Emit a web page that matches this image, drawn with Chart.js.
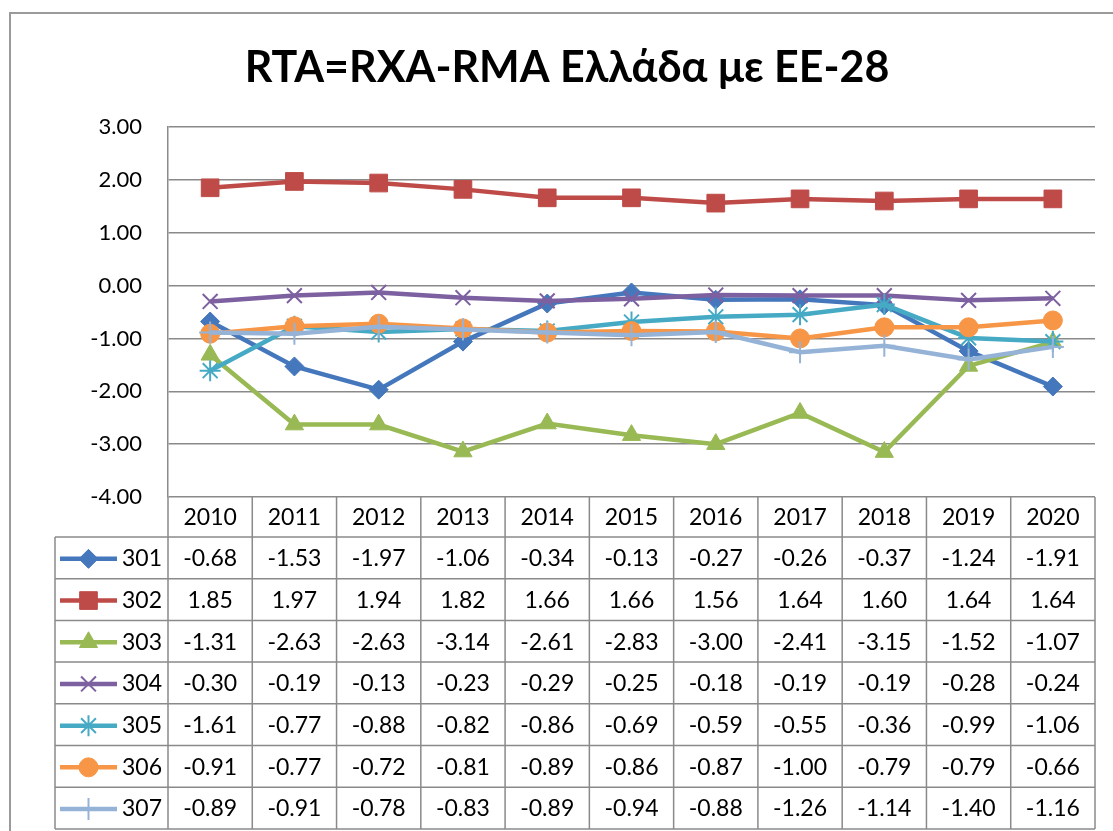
<!DOCTYPE html>
<html lang="el">
<head>
<meta charset="UTF-8">
<title>RTA=RXA-RMA Ελλάδα με ΕΕ-28</title>
<script src="https://cdn.jsdelivr.net/npm/chart.js@4.4.5/dist/chart.umd.min.js"></script>
<style>
  body { margin: 0; background: #fff; }
  #wrap { width: 1113px; height: 831px; }
</style>
</head>
<body>
<div id="wrap"><canvas id="myChart"></canvas></div>
<script>
const chartTitle = 'RTA=RXA-RMA Ελλάδα με ΕΕ-28';
const years = ['2010', '2011', '2012', '2013', '2014', '2015', '2016', '2017', '2018', '2019', '2020'];
const seriesNames = ['301', '302', '303', '304', '305', '306', '307'];

const s301 = [-0.68, -1.53, -1.97, -1.06, -0.34, -0.13, -0.27, -0.26, -0.37, -1.24, -1.91];
const s302 = [1.85, 1.97, 1.94, 1.82, 1.66, 1.66, 1.56, 1.64, 1.60, 1.64, 1.64];
const s303 = [-1.31, -2.63, -2.63, -3.14, -2.61, -2.83, -3.00, -2.41, -3.15, -1.52, -1.07];
const s304 = [-0.30, -0.19, -0.13, -0.23, -0.29, -0.25, -0.18, -0.19, -0.19, -0.28, -0.24];
const s305 = [-1.61, -0.77, -0.88, -0.82, -0.86, -0.69, -0.59, -0.55, -0.36, -0.99, -1.06];
const s306 = [-0.91, -0.77, -0.72, -0.81, -0.89, -0.86, -0.87, -1.00, -0.79, -0.79, -0.66];
const s307 = [-0.89, -0.91, -0.78, -0.83, -0.89, -0.94, -0.88, -1.26, -1.14, -1.40, -1.16];

const allSeries = [s301, s302, s303, s304, s305, s306, s307];
const colors = ['#4477BB', '#BE4B48', '#98B954', '#7D60A0', '#46AAC5', '#F79646', '#95B3D7'];
const markers = ['rectRot', 'rect', 'triangle', 'crossRot', 'star', 'circle', 'cross'];
const markerSize = [9.5, 12.5, 10.5, 10.5, 10.5, 9.5, 11];

const FONT = 'Lato, "Open Sans", sans-serif';
const gridColor = '#8a8a8a';

const datasets = allSeries.map((d, i) => {
    const stroked = ['crossRot', 'star', 'cross'].includes(markers[i]);
    return {
        label: seriesNames[i],
        data: d,
        borderColor: colors[i],
        backgroundColor: colors[i],
        borderWidth: 4.5,
        tension: 0,
        pointStyle: markers[i],
        pointRadius: markerSize[i],
        pointHoverRadius: markerSize[i],
        pointBorderWidth: stroked ? 2 : 1,
        order: 7 - i
    };
});

// white page, outer frame and the title
const framePlugin = {
    id: 'frame',
    beforeDraw(chart) {
        const ctx = chart.ctx;
        ctx.save();
        ctx.fillStyle = '#fff';
        ctx.fillRect(0, 0, chart.width, chart.height);
        ctx.strokeStyle = '#9a9a9a';
        ctx.lineWidth = 2;
        ctx.strokeRect(10, 13, chart.width + 50, chart.height + 50);

        ctx.fillStyle = '#000';
        ctx.font = 'bold 43px ' + FONT;
        ctx.textAlign = 'center';
        ctx.textBaseline = 'middle';
        ctx.fillText(chartTitle, 567, 68);
        ctx.restore();
    }
};

// data table under the plot
const tablePlugin = {
    id: 'dataTable',
    afterDraw(chart) {
        const ctx = chart.ctx;
        const area = chart.chartArea;
        const xs = chart.scales.x;
        const n = years.length;
        const colW = (area.right - area.left) / n;
        const top = area.bottom;
        const headH = 40;
        const rowH = 41.7;
        const legLeft = 55;
        const bottom = top + headH + rowH * seriesNames.length;

        ctx.save();
        ctx.strokeStyle = gridColor;
        ctx.lineWidth = 1.5;
        ctx.beginPath();
        for (let i = 0; i <= n; i++) {
            const x = area.left + i * colW;
            ctx.moveTo(x, top);
            ctx.lineTo(x, bottom);
        }
        ctx.moveTo(legLeft, top + headH);
        ctx.lineTo(legLeft, bottom);
        for (let r = 0; r <= seriesNames.length; r++) {
            const y = top + headH + r * rowH;
            ctx.moveTo(legLeft, y);
            ctx.lineTo(area.right, y);
        }
        ctx.stroke();

        ctx.fillStyle = '#000';
        ctx.font = '23px ' + FONT;
        ctx.textAlign = 'center';
        ctx.textBaseline = 'middle';
        years.forEach((yr, i) => {
            ctx.fillText(yr, xs.getPixelForValue(i), top + headH / 2 + 1);
        });

        allSeries.forEach((d, r) => {
            const cy = top + headH + r * rowH + rowH / 2 + 1;
            d.forEach((v, i) => {
                ctx.fillText(v.toFixed(2), xs.getPixelForValue(i), cy);
            });
            // legend key
            ctx.save();
            ctx.strokeStyle = colors[r];
            ctx.fillStyle = colors[r];
            ctx.lineWidth = 4.5;
            ctx.beginPath();
            ctx.moveTo(60, cy);
            ctx.lineTo(117, cy);
            ctx.stroke();
            ctx.lineWidth = datasets[r].pointBorderWidth;
            Chart.helpers.drawPoint(ctx, {
                pointStyle: markers[r],
                radius: markerSize[r],
                rotation: 0,
                borderWidth: datasets[r].pointBorderWidth
            }, 88.5, cy);
            ctx.restore();
            ctx.textAlign = 'right';
            ctx.fillText(seriesNames[r], 162, cy);
            ctx.textAlign = 'center';
        });
        ctx.restore();
    }
};

const config = {
    type: 'line',
    data: {
        labels: years,
        datasets: datasets
    },
    options: {
        responsive: true,
        maintainAspectRatio: false,
        animation: false,
        layout: {
            padding: { left: 0, right: 18, top: 127, bottom: 334 }
        },
        scales: {
            x: {
                display: false,
                offset: true
            },
            y: {
                min: -4,
                max: 3,
                ticks: {
                    stepSize: 1,
                    padding: 26,
                    color: '#000',
                    font: { family: FONT, size: 22 },
                    callback: v => v.toFixed(2)
                },
                grid: {
                    color: gridColor,
                    lineWidth: 1.5,
                    drawTicks: false
                },
                border: { color: gridColor, width: 1.5 },
                afterFit(scale) { scale.width = 168; }
            }
        },
        plugins: {
            legend: { display: false },
            tooltip: { enabled: false },
            title: { display: false }
        }
    },
    plugins: [framePlugin, tablePlugin]
};

const ctx = document.getElementById('myChart').getContext('2d');
const myChart = new Chart(ctx, config);
</script>
</body>
</html>
